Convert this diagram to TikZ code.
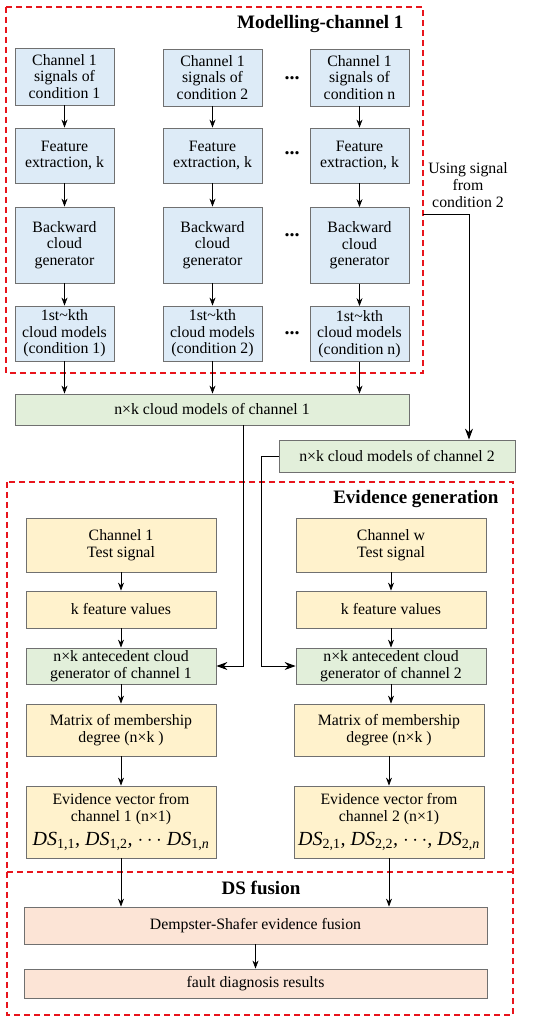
\documentclass[tikz,border=0pt]{standalone}
\usepackage{fontspec}
\setmainfont{Liberation Serif}
\usetikzlibrary{arrows.meta,positioning,calc}
\definecolor{BoxLine}{HTML}{707070}
\definecolor{FillBlue}{HTML}{DDEBF7}
\definecolor{FillGreen}{HTML}{E2EFDA}
\definecolor{FillYellow}{HTML}{FFF2CC}
\definecolor{FillPeach}{HTML}{FCE4D6}
\definecolor{GroupRed}{HTML}{E8141C}

\begin{document}
\begin{tikzpicture}[x=1pt, y=-1pt,
  every node/.style={font=\fontsize{15.8}{16.6}\selectfont},
  blk/.style={draw=BoxLine, line width=0.8pt, align=center, inner sep=0pt},
  blubox/.style={blk, fill=FillBlue, minimum width=99pt},
  grnbox/.style={blk, fill=FillGreen},
  ylwbox/.style={blk, fill=FillYellow, minimum width=190pt},
  pchbox/.style={blk, fill=FillPeach, minimum width=463pt},
  grp/.style={draw=GroupRed, line width=1.2pt, dash pattern=on 6pt off 4pt},
  ttl/.style={font=\fontsize{19}{21}\selectfont\bfseries},
  dots/.style={font=\fontsize{20}{20}\selectfont\bfseries},
  arr/.style={-{Stealth[length=8pt,width=6pt]}, line width=0.8pt},
  bigarr/.style={-{Stealth[length=11pt,width=8pt]}, line width=1pt}]
  \useasboundingbox (0,0) rectangle (550,1022);

  \draw[grp] (6,7) rectangle (423,373);
  \draw[grp] (7,482) rectangle (513,1015);
  \draw[grp] (7,872) -- (513,872);
  \node[ttl, anchor=east] (ttlmod) at (407,24) {Modelling-channel 1};
  \node[ttl, anchor=east] (ttlevi) at (502,499) {Evidence generation};
  \node[ttl] (ttlds) at (261,888) {DS fusion};

  \node[blubox, minimum height=57pt] (sig1) at (64.5,76.5) {Channel 1\\signals of\\condition 1};
  \node[blubox, minimum height=55pt] (fea1) at (64.5,155.5) {Feature\\extraction, k};
  \node[blubox, minimum height=76pt] (bcg1) at (64.5,245) {Backward\\cloud\\generator};
  \node[blubox, minimum height=55pt] (cld1) at (64.5,333.5) {1st\textasciitilde kth\\cloud models\\(condition 1)};

  \node[blubox, minimum height=57pt] (sig2) at (212.5,77.5) {Channel 1\\signals of\\condition 2};
  \node[blubox, minimum height=55pt] (fea2) at (212.5,155.5) {Feature\\extraction, k};
  \node[blubox, minimum height=76pt] (bcg2) at (212.5,245) {Backward\\cloud\\generator};
  \node[blubox, minimum height=55pt] (cld2) at (212.5,333.5) {1st\textasciitilde kth\\cloud models\\(condition 2)};

  \node[blubox, minimum height=57pt] (sign) at (359.5,77.5) {Channel 1\\signals of\\condition n};
  \node[blubox, minimum height=55pt] (fean) at (359.5,155.5) {Feature\\extraction, k};
  \node[blubox, minimum height=76pt] (bcgn) at (359.5,245.5) {Backward\\cloud\\generator};
  \node[blubox, minimum height=55pt] (cldn) at (359.5,334) {1st\textasciitilde kth\\cloud models\\(condition n)};

  \node[dots] (dot1) at (292,78) {...};
  \node[dots] (dot2) at (292,153) {...};
  \node[dots] (dot3) at (292,235) {...};
  \node[dots] (dot4) at (292,333) {...};

  \foreach \c in {1,2,n} {
    \draw[arr] (sig\c) -- (fea\c);
    \draw[arr] (fea\c) -- (bcg\c);
    \draw[arr] (bcg\c) -- (cld\c);
  }

  \node[grnbox, minimum width=394pt, minimum height=31pt] (cmod1) at (212,409.5) {n×k cloud models of channel 1};
  \node[grnbox, minimum width=236pt, minimum height=32pt] (cmod2) at (397,456) {n×k cloud models of channel 2};
  \foreach \c in {1,2,n}
    \draw[arr] (cld\c.south) -- (cld\c.south |- cmod1.north);

  \coordinate (tap) at (423,214);
  \coordinate (bend) at (469,214);
  \node[align=center] (usetxt) at (468,185) {Using signal\\from\\condition 2};
  \draw[bigarr] (tap) -- (bend) -- (bend |- cmod2.north);

  \node[ylwbox, minimum height=54pt] (test1) at (121,545) {Channel 1\\Test signal};
  \node[ylwbox, minimum height=37pt] (kfv1) at (121,609.5) {k feature values};
  \node[grnbox, minimum width=190pt, minimum height=36pt] (ante1) at (121,666) {n×k antecedent cloud\\generator of channel 1};
  \node[ylwbox, minimum height=52pt] (mat1) at (121,730) {Matrix of membership\\degree (n×k )};
  \node[ylwbox, minimum height=72pt] (evi1) at (121,822) {Evidence vector from\\channel 1 (n×1)\\[6pt]
    {\fontsize{20}{20}\selectfont\itshape DS\textsubscript{\upshape 1,1}, DS\textsubscript{\upshape 1,2}, $\cdots$ DS\textsubscript{\upshape 1,\itshape n}}};

  \node[ylwbox, minimum height=54pt] (test2) at (391,545) {Channel w\\Test signal};
  \node[ylwbox, minimum height=37pt] (kfv2) at (391,609.5) {k feature values};
  \node[grnbox, minimum width=190pt, minimum height=36pt] (ante2) at (391,666) {n×k antecedent cloud\\generator of channel 2};
  \node[ylwbox, minimum height=52pt] (mat2) at (389,730) {Matrix of membership\\degree (n×k )};
  \node[ylwbox, minimum height=72pt] (evi2) at (389,822) {Evidence vector from\\channel 2 (n×1)\\[6pt]
    {\fontsize{20}{20}\selectfont\itshape DS\textsubscript{\upshape 2,1}, DS\textsubscript{\upshape 2,2}, $\cdots$, DS\textsubscript{\upshape 2,\itshape n}}};

  \foreach \c in {1,2} {
    \draw[arr] (test\c) -- (kfv\c);
    \draw[arr] (kfv\c) -- (ante\c);
    \draw[arr] (ante\c.south) -- (ante\c.south |- mat\c.north);
    \draw[arr] (mat\c) -- (evi\c);
  }
  \draw[bigarr] ($(cmod1.south)+(31,0)$) |- (ante1.east);
  \draw[bigarr] (cmod2.west) -| ($(ante2.west)+(-34,0)$) -- (ante2.west);

  \node[pchbox, minimum height=37pt] (dsf) at (255.5,925.5) {Dempster-Shafer evidence fusion};
  \node[pchbox, minimum height=29pt] (fdr) at (255.5,983.5) {fault diagnosis results};
  \draw[arr] (evi1.south) -- (evi1.south |- dsf.north);
  \draw[arr] (evi2.south) -- (evi2.south |- dsf.north);
  \draw[arr] (dsf) -- (fdr);
\end{tikzpicture}
\end{document}
